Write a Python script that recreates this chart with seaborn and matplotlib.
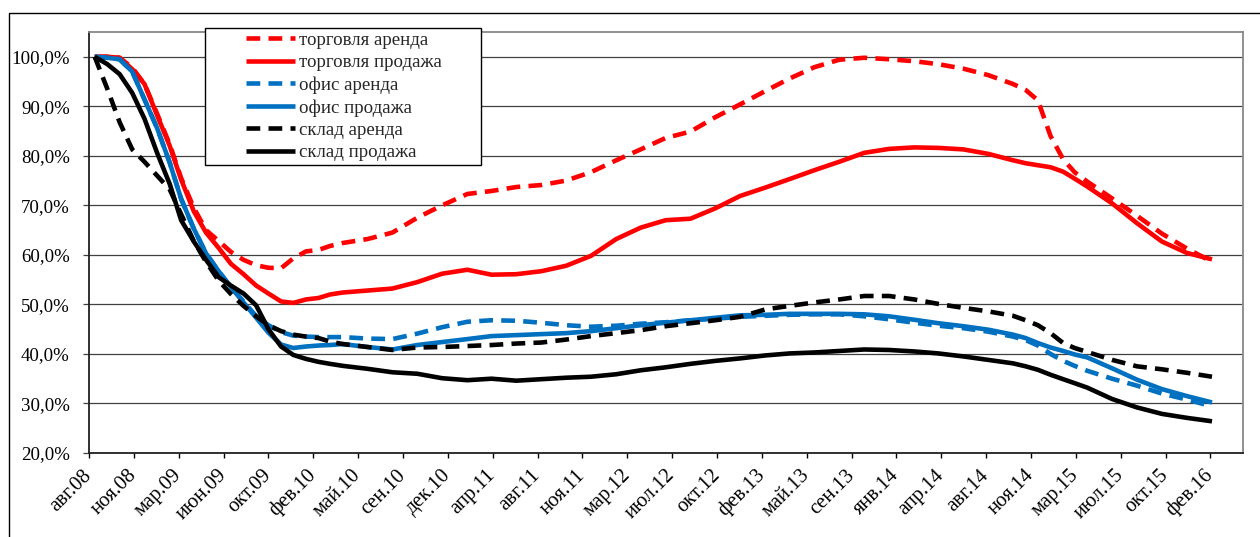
import numpy as np
import pandas as pd
import matplotlib
matplotlib.use("Agg")
import matplotlib.pyplot as plt
from matplotlib.patches import Rectangle
from matplotlib.legend_handler import HandlerLine2D
from matplotlib.lines import Line2D
import seaborn as sns

# ---------------- data ----------------
months = list(range(0, 21)) + list(range(22, 75, 2)) + [75, 76, 77, 78, 79, 80] + [82, 84, 86, 88, 90]

tick_labels = ["авг.08", "ноя.08", "мар.09", "июн.09", "окт.09", "фев.10", "май.10", "сен.10",
               "дек.10", "апр.11", "авг.11", "ноя.11", "мар.12", "июл.12", "окт.12", "фев.13",
               "май.13", "сен.13", "янв.14", "апр.14", "авг.14", "ноя.14", "мар.15", "июл.15",
               "окт.15", "фев.16"]

series_names = ["торговля аренда", "торговля продажа", "офис аренда",
                "офис продажа", "склад аренда", "склад продажа"]

trade_rent = [100, 100, 99.8, 97.8, 94.5, 88.5, 82.3, 75.5, 69.5, 65, 62.8, 60.6, 59, 57.9, 57.4,
              57.3, 59.3, 60.7, 61, 61.8, 62.4,
              63.2, 64.5, 67.5, 70, 72.3, 72.9, 73.7, 74.1, 75, 76.7, 79.1, 81.3, 83.6, 84.9, 87.8,
              90.4, 93.1, 95.6, 97.9, 99.4, 99.8, 99.5, 99.1, 98.5, 97.6, 96.3, 94.5,
              93.3, 91.2, 84, 79.3, 76.7, 74.8,
              71.4, 67.9, 64.3, 61.3, 58.6]
trade_sale = [100, 100, 99.8, 97.5, 94.5, 88.2, 82, 75.2, 68.8, 64.5, 61.4, 58.2, 56.1, 53.8, 52.2,
              50.6, 50.3, 51, 51.3, 52, 52.4,
              52.8, 53.2, 54.5, 56.2, 57, 56, 56.1, 56.7, 57.8, 59.8, 63.2, 65.5, 67, 67.3, 69.4,
              71.9, 73.6, 75.3, 77.1, 78.8, 80.6, 81.4, 81.7, 81.6, 81.3, 80.4, 79.1,
              78.5, 78.1, 77.7, 76.8, 75.4, 73.8,
              70.4, 66.4, 62.7, 60.4, 59.1]
office_rent = [100, 99.8, 99.5, 97, 91.4, 85.6, 78.6, 71.3, 65.3, 60.3, 56.7, 53.5, 50.6, 47.6, 45.8,
               44.4, 43.7, 43.5, 43.4, 43.4, 43.4,
               43.1, 43, 44.1, 45.4, 46.5, 46.8, 46.7, 46.3, 45.8, 45.5, 45.7, 46.1, 46.4, 46.8, 47.1,
               47.5, 47.7, 47.9, 48, 48, 47.6, 47, 46.3, 45.7, 45.2, 44.5, 43.5,
               42.8, 41.7, 40, 38.6, 37.6, 36.6,
               35, 33.6, 32, 30.8, 29.4]
office_sale = [100, 99.8, 99.5, 97, 91.4, 85.6, 78.6, 71.3, 65.3, 60.3, 56.7, 53.5, 50.4, 47.3, 44.3,
               41.9, 41.2, 41.5, 41.7, 41.8, 42,
               41.4, 40.9, 41.8, 42.4, 43, 43.6, 43.8, 44, 44.2, 44.6, 45.2, 45.8, 46.3, 46.8, 47.3,
               47.8, 47.9, 48.1, 48.1, 48.1, 48, 47.6, 46.9, 46.2, 45.6, 44.9, 43.9,
               43.2, 42.2, 41.3, 40.6, 39.9, 39.3,
               37.1, 34.8, 32.9, 31.5, 30.2]
store_rent = [100, 93.5, 86.8, 81.3, 78.8, 76, 73.2, 68.2, 62.8, 58.6, 54.8, 52.1, 49.7, 47.6, 45.8,
              44.6, 43.9, 43.5, 43.2, 42.5, 42,
              41.4, 40.8, 41.3, 41.4, 41.6, 41.8, 42.1, 42.3, 42.9, 43.6, 44.2, 44.8, 45.6, 46.2, 46.8,
              47.5, 49, 49.7, 50.4, 51, 51.7, 51.7, 51, 50.1, 49.3, 48.6, 47.7,
              46.8, 45.8, 44.2, 42.2, 41.2, 40.4,
              38.8, 37.5, 36.9, 36.2, 35.4]
store_sale = [100, 98.5, 96.5, 92.7, 87.5, 80.6, 74.3, 67, 62.7, 59, 55.5, 53.8, 52.2, 49.8, 45,
              41.5, 39.8, 39, 38.4, 38, 37.6,
              37, 36.3, 36, 35.1, 34.7, 35, 34.6, 34.9, 35.2, 35.4, 35.9, 36.7, 37.3, 38, 38.6,
              39.1, 39.7, 40.1, 40.3, 40.6, 40.9, 40.8, 40.5, 40.1, 39.5, 38.8, 38.1,
              37.5, 36.8, 35.8, 34.9, 34.1, 33.2,
              30.9, 29.2, 27.9, 27.1, 26.4]

all_values = [trade_rent, trade_sale, office_rent, office_sale, store_rent, store_sale]
colors = ["#FF0000", "#FF0000", "#0070C0", "#0070C0", "#000000", "#000000"]
dash_flags = [True, False, True, False, True, False]

# ---------------- frame ----------------
W, H = 1260, 537
sns.set_style("white")
plt.rcParams["font.family"] = ["Liberation Serif", "DejaVu Serif"]
FS = 13.6
FSX = 14.8

fig = plt.figure(figsize=(W / 100, H / 100), dpi=100)
ax = fig.add_axes([89 / W, 1 - 453 / H, (1243 - 89) / W, (453 - 32) / H])

start = pd.Timestamp("2008-08-15")
dates = [start + pd.DateOffset(months=m) for m in months]
frames = []
for name, vals in zip(series_names, all_values):
    frames.append(pd.DataFrame({"date": dates, "value": vals, "series": name}))
df = pd.concat(frames, ignore_index=True)

palette = dict(zip(series_names, colors))
dashes = {n: ((3, 1.8) if d else "") for n, d in zip(series_names, dash_flags)}
sns.lineplot(data=df, x="date", y="value", hue="series", style="series",
             hue_order=series_names, style_order=series_names,
             palette=palette, dashes=dashes, linewidth=3.3, legend=False, ax=ax,
             solid_joinstyle="round", solid_capstyle="butt", dash_capstyle="butt")

# axes
axis_start = pd.Timestamp("2008-08-01")
ticks = [axis_start + pd.Timedelta(days=110 * k) for k in range(len(tick_labels))]
ax.set_xlim(axis_start, axis_start + pd.Timedelta(days=2830))
ax.set_xticks(ticks)
ax.set_xticklabels(tick_labels, rotation=45, ha="right", va="center",
                   rotation_mode="anchor", fontsize=FSX)
ax.set_ylim(20, 105)
yt = list(range(20, 101, 10))
ax.set_yticks(yt)
ax.set_yticklabels([f"{v:.1f}".replace(".", ",") + "%" for v in yt], fontsize=FS)
ax.set_xlabel("")
ax.set_ylabel("")

ax.yaxis.grid(True, color="#404040", linewidth=0.9)
ax.xaxis.grid(False)
ax.set_axisbelow(True)
ax.tick_params(axis="x", direction="out", length=3.6, width=1.0, color="black", pad=10.5,
               labelcolor="black", bottom=True)
ax.tick_params(axis="y", direction="out", length=4.3, width=0.9, color="#404040", pad=9.5,
               labelcolor="black", left=True)
for side in ["top", "right"]:
    ax.spines[side].set_color("#888888")
    ax.spines[side].set_linewidth(1.3)
for side in ["left", "bottom"]:
    ax.spines[side].set_color("#202020")
    ax.spines[side].set_linewidth(1.3)

# legend
handles = ax.get_lines()[:6]
x0, y0 = 205 / W, 1 - 163 / H
lw_box = (481 - 205) / W
h_box = (163 - 28) / H
leg = ax.legend(handles, series_names, loc="upper left",
                bbox_to_anchor=(x0, y0, lw_box, h_box), bbox_transform=fig.transFigure,
                mode="expand", borderaxespad=0, borderpad=0.2, labelspacing=0.27,
                handlelength=4.55, handletextpad=0.21, fontsize=FS, frameon=True,
                fancybox=False, framealpha=1, edgecolor="black",
                handler_map={Line2D: HandlerLine2D(xpad=1.95)})
leg.get_frame().set_linewidth(1.0)

# outer chart frame (top and left visible)
fig.patches.append(Rectangle((9 / W, -0.2), 1.5, 1 - 13 / H + 0.2, transform=fig.transFigure,
                             fill=False, edgecolor="black", linewidth=1.0))

fig.savefig("out.png", dpi=100)
